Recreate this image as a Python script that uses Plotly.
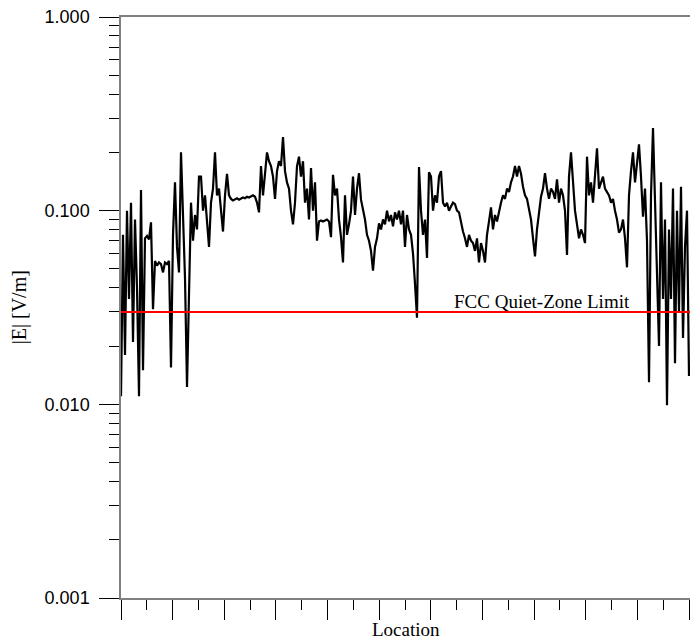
import numpy as np
import plotly.graph_objects as go

# |E| field strength along the route (V/m), evenly spaced in location
e_field = [
    0.011, 0.075, 0.018, 0.10, 0.035, 0.11, 0.021, 0.09, 0.040, 0.011,
    0.128, 0.015, 0.072, 0.074, 0.071, 0.087, 0.031, 0.055, 0.052, 0.054,
    0.053, 0.048, 0.054, 0.053, 0.055, 0.0155, 0.075, 0.14, 0.065, 0.048,
    0.20, 0.10, 0.045, 0.0123, 0.035, 0.11, 0.07, 0.095, 0.08, 0.15,
    0.15, 0.10, 0.12, 0.085, 0.065, 0.11, 0.13, 0.20, 0.12, 0.13,
    0.10, 0.078, 0.12, 0.155, 0.12, 0.115, 0.113, 0.115, 0.116, 0.114,
    0.115, 0.117, 0.116, 0.118, 0.117, 0.119, 0.120, 0.118, 0.110, 0.098,
    0.17, 0.12, 0.16, 0.20, 0.18, 0.17, 0.15, 0.115, 0.16, 0.18,
    0.17, 0.24, 0.16, 0.14, 0.13, 0.10, 0.085, 0.11, 0.17, 0.19,
    0.15, 0.18, 0.11, 0.13, 0.09, 0.166, 0.10, 0.14, 0.070, 0.088,
    0.089, 0.088, 0.089, 0.090, 0.088, 0.073, 0.153, 0.12, 0.13, 0.09,
    0.073, 0.054, 0.12, 0.075, 0.085, 0.10, 0.15, 0.095, 0.13, 0.156,
    0.114, 0.10, 0.09, 0.075, 0.07, 0.062, 0.049, 0.065, 0.072, 0.086,
    0.08, 0.09, 0.085, 0.10, 0.088, 0.095, 0.083, 0.098, 0.09, 0.10,
    0.085, 0.10, 0.065, 0.095, 0.08, 0.075, 0.06, 0.042, 0.028, 0.168,
    0.10, 0.075, 0.09, 0.057, 0.158, 0.15, 0.10, 0.12, 0.11, 0.15,
    0.16, 0.11, 0.105, 0.11, 0.10, 0.105, 0.11, 0.108, 0.10, 0.098,
    0.086, 0.078, 0.072, 0.065, 0.075, 0.070, 0.068, 0.062, 0.072, 0.054,
    0.068, 0.062, 0.054, 0.075, 0.088, 0.104, 0.08, 0.095, 0.088, 0.10,
    0.11, 0.12, 0.115, 0.13, 0.125, 0.14, 0.15, 0.17, 0.15, 0.17,
    0.155, 0.133, 0.12, 0.115, 0.10, 0.09, 0.072, 0.058, 0.08, 0.10,
    0.118, 0.13, 0.156, 0.13, 0.115, 0.13, 0.125, 0.115, 0.145, 0.11,
    0.13, 0.12, 0.10, 0.059, 0.15, 0.20, 0.14, 0.10, 0.085, 0.072,
    0.08, 0.075, 0.068, 0.19, 0.12, 0.14, 0.11, 0.15, 0.21, 0.13,
    0.14, 0.15, 0.13, 0.125, 0.12, 0.11, 0.115, 0.10, 0.09, 0.077,
    0.08, 0.09, 0.072, 0.051, 0.12, 0.16, 0.20, 0.14, 0.18, 0.22,
    0.15, 0.093, 0.13, 0.07, 0.013, 0.12, 0.267, 0.12, 0.045, 0.020,
    0.14, 0.035, 0.09, 0.0099, 0.08, 0.035, 0.13, 0.0163, 0.10, 0.03,
    0.133, 0.022, 0.065, 0.10, 0.014,
]
location = np.arange(len(e_field))

fcc_limit = 0.03
limit_label = "FCC Quiet-Zone Limit"
x_title = "Location"
y_title = "|E| [V/m]"
y_tickvals = [0.001, 0.01, 0.1, 1.0]
y_ticktext = ["0.001", "0.010", "0.100", "1.000"]
y_minor = [m * 10.0 ** d for d in (-3, -2, -1) for m in range(2, 10)]

n_last = len(e_field) - 1
serif = "Liberation Serif, Times New Roman, serif"
sans = "Liberation Sans, Arial, sans-serif"

fig = go.Figure()
fig.add_trace(go.Scatter(
    x=location, y=e_field, mode="lines",
    line=dict(color="black", width=2.2),
    showlegend=False, hoverinfo="skip",
))

fig.add_shape(type="line", xref="paper", x0=0, x1=1, yref="y",
              y0=fcc_limit, y1=fcc_limit,
              line=dict(color="#ff0000", width=2), layer="above")

fig.add_annotation(text=limit_label, xref="paper", x=0.898, xanchor="right",
                   yref="y", y=np.log10(fcc_limit), yanchor="bottom", yshift=-2,
                   showarrow=False, font=dict(family=serif, size=19, color="black"))

fig.add_annotation(text=x_title, xref="paper", x=0.5, xanchor="center",
                   yref="paper", y=-0.055, yanchor="middle",
                   showarrow=False, font=dict(family=serif, size=19, color="black"))
fig.add_annotation(text=y_title, xref="paper", x=-0.178, xanchor="center",
                   yref="paper", y=0.5, yanchor="middle", textangle=-90,
                   showarrow=False, font=dict(family=serif, size=20, color="black"))

fig.update_layout(
    width=691, height=642,
    margin=dict(l=121, r=1, t=17, b=44),
    paper_bgcolor="white", plot_bgcolor="white",
    showlegend=False,
    xaxis=dict(
        range=[0, n_last + 0.5], showgrid=False, zeroline=False,
        showline=True, linecolor="#808080", linewidth=1.5, mirror=True,
        ticks="outside", ticklen=20, tickwidth=1, tickcolor="black",
        tickmode="linear", tick0=0, dtick=n_last / 11,
        showticklabels=False,
        minor=dict(ticks="outside", ticklen=10, tickwidth=1, tickcolor="black",
                   tickmode="linear", tick0=0, dtick=n_last / 22),
    ),
    yaxis=dict(
        type="log", range=[-3, 0], showgrid=False, zeroline=False,
        showline=True, linecolor="#808080", linewidth=1.5, mirror=False,
        ticks="outside", ticklen=20, tickwidth=1, tickcolor="black",
        tickmode="array", tickvals=y_tickvals, ticktext=y_ticktext,
        tickfont=dict(family=sans, size=18, color="black"),
        ticklabelstandoff=6,
        minor=dict(ticks="outside", ticklen=10, tickwidth=1, tickcolor="black",
                   tickmode="array", tickvals=y_minor),
    ),
)

fig.write_html("out.html")
